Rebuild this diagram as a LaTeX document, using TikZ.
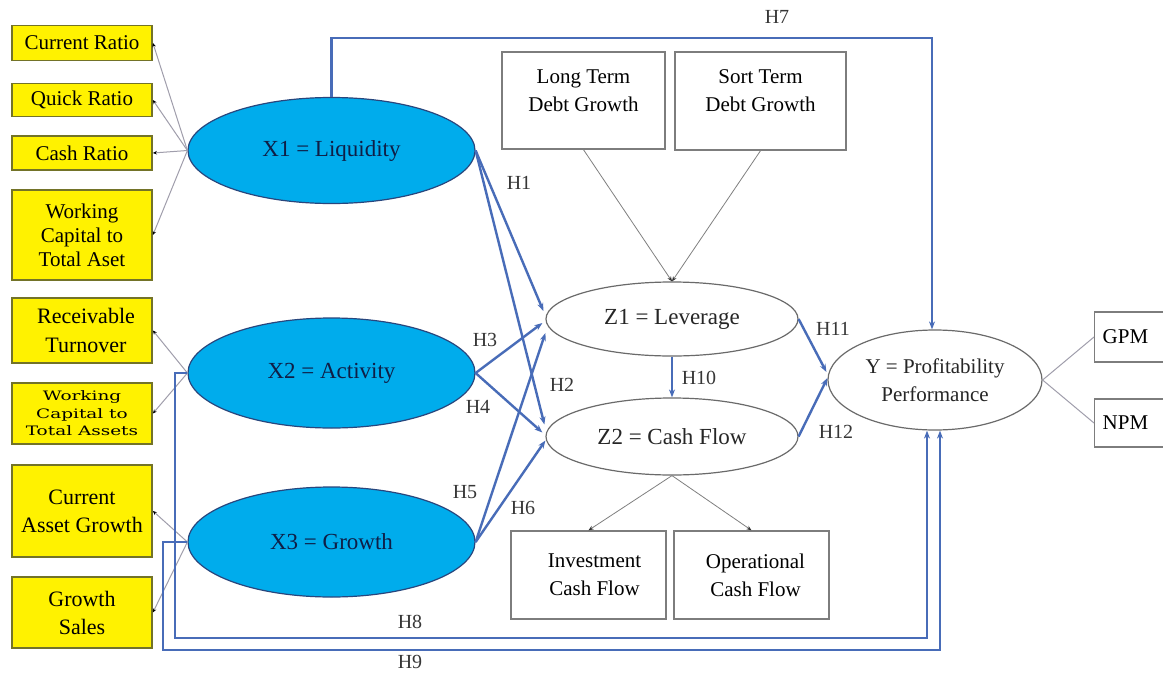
\documentclass[tikz,border=0pt]{standalone}
\usepackage{fontspec}
\usepackage{graphicx}
\setmainfont{Liberation Serif}
\newfontfamily\wideserif{DejaVu Serif}
\usetikzlibrary{shapes.geometric,arrows.meta,calc}
\definecolor{linkblue}{RGB}{72,108,184}
\definecolor{latfill}{RGB}{0,172,236}
\definecolor{latdraw}{RGB}{40,70,125}
\definecolor{lattext}{RGB}{15,30,70}
\definecolor{ybord}{RGB}{115,115,40}
\definecolor{indgray}{RGB}{160,158,172}
\definecolor{boxgray}{RGB}{125,125,125}
\definecolor{labgray}{RGB}{55,55,55}
\begin{document}
\begin{tikzpicture}[x=1pt,y=-1pt,
  ybox/.style={draw=ybord, line width=1.8pt, fill=yellow, inner sep=0pt,
    minimum width=140pt, align=center, font=\fontsize{21}{24}\selectfont},
  latent/.style={ellipse, draw=latdraw, line width=1.2pt, fill=latfill, inner sep=0pt,
    minimum width=287pt, minimum height=106pt, text=lattext, font=\fontsize{23}{26}\selectfont},
  medi/.style={ellipse, draw=boxgray!85!black, line width=1.2pt, fill=white, inner sep=0pt,
    minimum width=252pt, text=black!85, font=\fontsize{23}{26}\selectfont},
  gbox/.style={draw=boxgray, line width=1.4pt, fill=white, inner sep=0pt, align=center,
    font=\fontsize{21}{28}\selectfont},
  ind/.style={draw=indgray, line width=1pt, -{Stealth[length=4pt,width=3.5pt,black]}},
  thin/.style={draw=black!50, line width=0.8pt, -{Stealth[length=5pt,width=4pt,black!80]}},
  hyp/.style={draw=linkblue, line width=2.4pt, -{Stealth[length=8pt,width=6pt]}},
  hlab/.style={text=labgray, inner sep=0pt, font=\fontsize{20}{22}\selectfont}]
\useasboundingbox (0,0) rectangle (1163,675);
\fill[white] (0,0) rectangle (1163,675);

% indicator boxes
\node[ybox, minimum height=35pt] (cr) at (82,43) {Current Ratio};
\node[ybox, minimum height=33pt] (qr) at (82,100) {Quick Ratio};
\node[ybox, minimum height=34pt] (chr) at (82,153) {Cash Ratio};
\node[ybox, minimum height=90pt] (wca) at (82,235) {Working\\Capital to\\Total Aset};
\node[ybox, minimum height=65pt, font=\fontsize{22}{29}\selectfont] (rt) at (82,330.5) {\hspace*{8pt}Receivable\\\hspace*{8pt}Turnover};
\node[ybox, minimum height=61pt, font=\fontsize{13}{17.5}\selectfont\wideserif] (wcb) at (82,413.5)
  {\scalebox{1.42}[1]{Working}\\\scalebox{1.42}[1]{Capital to}\\\scalebox{1.42}[1]{Total Assets}};
\node[ybox, minimum height=92pt, font=\fontsize{22}{28}\selectfont] (cag) at (82,511) {Current\\Asset Growth};
\node[ybox, minimum height=71pt, font=\fontsize{22}{28}\selectfont] (gs) at (82,612.5) {Growth\\Sales};

% latent variables
\node[latent] (X1) at (331.5,150.5) {X1 = Liquidity};
\node[latent, minimum height=110pt] (X2) at (331.5,373) {X2 = Activity};
\node[latent, minimum height=110pt] (X3) at (331.5,542) {X3 = Growth};

\node[medi, minimum height=74pt] (Z1) at (672,319) {Z1 = Leverage};
\node[medi, minimum height=77pt] (Z2) at (672,436.5) {Z2 = Cash Flow};
\node[medi, minimum width=214pt, minimum height=100pt, align=center,
  font=\fontsize{21}{28}\selectfont] (Y) at (935,380) {Y = Profitability\\Performance};

% other indicator boxes
\node[gbox] (lt) at (583.5,100.5) {\parbox[c][97pt][t]{163pt}{\centering\vspace*{18pt}Long Term\\Debt Growth}};
\node[gbox] (st) at (760.5,101) {\parbox[c][98pt][t]{171pt}{\centering\vspace*{18pt}Sort Term\\Debt Growth}};
\node[gbox] (inv) at (588.5,575) {\parbox[c][88pt][c]{155pt}{\centering\hspace*{12pt}Investment\\\hspace*{12pt}Cash Flow}};
\node[gbox] (op) at (751.5,575) {\parbox[c][88pt][c]{155pt}{\centering\hspace*{8pt}Operational\\\hspace*{8pt}Cash Flow}};
\node[gbox, anchor=west, minimum height=50pt, text width=66pt, align=left, inner xsep=8pt] (gpm) at (1094,337) {GPM};
\node[gbox, anchor=west, minimum height=48pt, text width=66pt, align=left, inner xsep=8pt] (npm) at (1094,423) {NPM};

% indicator links
\draw[ind] (X1.west) -- (cr.east);
\draw[ind] (X1.west) -- (qr.east);
\draw[ind] (X1.west) -- (chr.east);
\draw[ind] (X1.west) -- (wca.east);
\draw[ind] (X2.west) -- (rt.east);
\draw[ind] (X2.west) -- (wcb.east);
\draw[ind] (X3.west) -- (cag.east);
\draw[ind] (X3.west) -- (gs.east);
\draw[thin] (lt.south) -- (Z1.north);
\draw[thin] (st.south) -- (Z1.north);
\draw[thin] (Z2.south) -- (inv.north);
\draw[thin] (Z2.south) -- (op.north);
\draw[draw=indgray, line width=1pt] (Y.east) -- (gpm.west);
\draw[draw=indgray, line width=1pt] (Y.east) -- (npm.west);

% hypotheses
\draw[hyp] (X1.east) -- ($(Z1.west)+(-2,-8)$);
\draw[hyp] (X1.east) -- ($(Z2.west)+(-1,-12)$);
\draw[hyp] (X2.east) -- ($(Z1.west)+(-3,4)$);
\draw[hyp] (X2.east) -- ($(Z2.west)+(-3,-4)$);
\draw[hyp] (X3.east) -- ($(Z1.west)+(0,14)$);
\draw[hyp] (X3.east) -- ($(Z2.west)+(0,4)$);
\draw[hyp] (Z1.south) -- (Z2.north);
\draw[hyp] (Z1.east) -- ($(Y.west)+(-1,-8)$);
\draw[hyp] (Z2.east) -- ($(Y.west)+(0,-2)$);

\coordinate (h7top) at (0,38);
\draw[hyp] (X1.north) -- (X1.north |- h7top) -| ($(Y.north)+(-3,0)$);
\coordinate (h8c) at (175,638);
\coordinate (h9c) at (163,650);
\draw[hyp] (X2.west) -| (h8c) -| ($(Y.south)+(-8,0)$);
\draw[hyp] (X3.west) -| (h9c) -| ($(Y.south)+(5,0)$);

% labels
\node[hlab] (l7) at (777,17) {H7};
\node[hlab] (l1) at (519,183) {H1};
\node[hlab] (l3) at (485,340) {H3};
\node[hlab] (l2) at (562,385) {H2};
\node[hlab] (l4) at (478,407) {H4};
\node[hlab] (l5) at (465,492) {H5};
\node[hlab] (l6) at (523,508) {H6};
\node[hlab] (l10) at (699,378) {H10};
\node[hlab] (l11) at (833,329) {H11};
\node[hlab] (l12) at (836,432) {H12};
\node[hlab] (l8) at (410,622) {H8};
\node[hlab] (l9) at (410,662) {H9};
\end{tikzpicture}
\end{document}
